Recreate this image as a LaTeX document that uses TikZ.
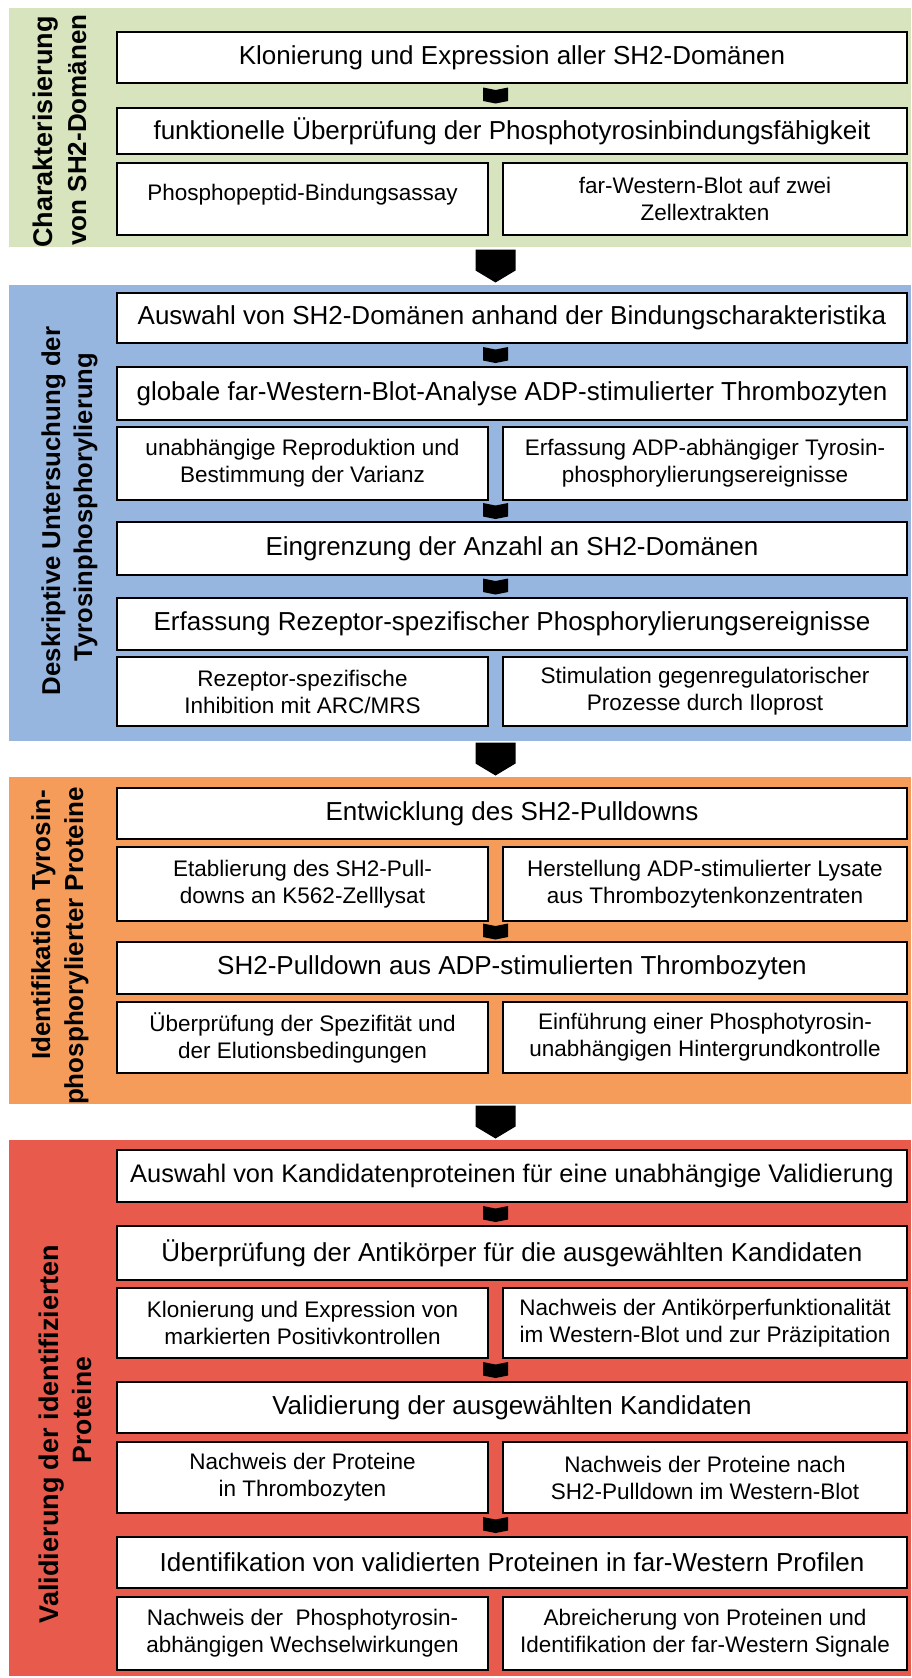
\documentclass[tikz,border=0pt]{standalone}
\usepackage{fontspec}
\setmainfont{Liberation Sans}
\usetikzlibrary{calc}
\definecolor{pgreen}{HTML}{D7E4BD}
\definecolor{pblue}{HTML}{96B5DF}
\definecolor{porange}{HTML}{F59C5A}
\definecolor{pred}{HTML}{E85A4C}
\tikzset{
  panel/.style={anchor=north west, inner sep=0pt, outer sep=0pt, minimum width=902pt},
  box/.style={draw=black, line width=1.5pt, fill=white, anchor=north west, inner sep=0pt, outer sep=0pt, align=center, font=\fontsize{26}{31}\selectfont},
  wide/.style={box, minimum width=790pt},
  pl/.style={box, minimum width=371pt, font=\fontsize{22.5}{27}\selectfont},
  pr/.style={box, minimum width=404pt, font=\fontsize{22.5}{27}\selectfont},
  lab/.style={rotate=90, anchor=base, inner sep=0pt},
  labf/.style={font=\fontsize{#1}{32}\selectfont\bfseries},
  smallarr/.pic={\fill[black] (-12.5,-8) -- (0,-5.5) -- (12.5,-8) -- (12.5,5.5) -- (0,8) -- (-12.5,5.5) -- cycle;},
  bigarr/.pic={\fill[black] (-20,-16.5) -- (20,-16.5) -- (20,4.5) -- (0,16.5) -- (-20,4.5) -- cycle;}
}
\newcommand{\sarr}[2]{\coordinate (tmp) at ($(#1.south)!0.5!(#2.north)$); \pic at (axis |- tmp) {smallarr};}
\newcommand{\barr}[2]{\coordinate (tmp) at ($(#1.south)!0.5!(#2.north)$); \pic at (axis |- tmp) {bigarr};}
\begin{document}
\begin{tikzpicture}[x=1pt,y=-1pt]
\useasboundingbox (0,0) rectangle (912,1678);
\coordinate (axis) at (495.5,0);
% panels
\node[panel, fill=pgreen, minimum height=239pt] (pg) at (9,8) {};
\node[panel, fill=pblue, minimum height=456pt] (pb) at (9,285) {};
\node[panel, fill=porange, minimum height=327pt] (po) at (9,777) {};
\node[panel, fill=pred, minimum height=536pt] (pr) at (9,1140) {};
% labels
\node[lab, labf=27] (lg1) at (52,132) {Charakterisierung};
\node[lab, labf=26] (lg2) at (86,130) {von SH2-Domänen};
\node[lab, labf=25.8] (lb1) at (60,511) {Deskriptive Untersuchung der};
\node[lab, labf=25.6] (lb2) at (92,507) {Tyrosinphosphorylierung};
\node[lab, labf=26] (lo1) at (50,925) {Identifikation Tyrosin-};
\node[lab, labf=26] (lo2) at (83,946) {phosphorylierter Proteine};
\node[lab, labf=27] (lr1) at (58,1434) {Validierung der identifizierten};
\node[lab, labf=26.5] (lr2) at (91,1410) {Proteine};
% green
\node[wide, minimum height=51pt] (g1) at (117,32) {Klonierung und Expression aller SH2-Domänen};
\node[wide, minimum height=46pt] (g2) at (117,108) {funktionelle Überprüfung der Phosphotyrosinbindungsfähigkeit};
\node[pl, minimum height=72pt, text depth=14pt] (g3a) at (117,163) {Phosphopeptid-Bindungsassay};
\node[pr, minimum height=72pt] (g3b) at (503,163) {far-Western-Blot auf zwei\\Zellextrakten};
% blue
\node[wide, minimum height=50pt] (b1) at (117,293) {Auswahl von SH2-Domänen anhand der Bindungscharakteristika};
\node[wide, minimum height=53pt] (b2) at (117,367) {globale far-Western-Blot-Analyse ADP-stimulierter Thrombozyten};
\node[pl, minimum height=73pt] (b3a) at (117,427) {unabhängige Reproduktion und\\Bestimmung der Varianz};
\node[pr, minimum height=73pt] (b3b) at (503,427) {Erfassung ADP-abhängiger Tyrosin-\\phosphorylierungsereignisse};
\node[wide, minimum height=53pt] (b4) at (117,522) {Eingrenzung der Anzahl an SH2-Domänen};
\node[wide, minimum height=52pt] (b5) at (117,598) {Erfassung Rezeptor-spezifischer Phosphorylierungsereignisse};
\node[pl, minimum height=69pt] (b6a) at (117,657) {Rezeptor-spezifische\\Inhibition mit ARC/MRS};
\node[pr, minimum height=69pt] (b6b) at (503,657) {Stimulation gegenregulatorischer\\Prozesse durch Iloprost};
% orange
\node[wide, minimum height=51pt] (o1) at (117,788) {Entwicklung des SH2-Pulldowns};
\node[pl, minimum height=74pt] (o2a) at (117,847) {Etablierung des SH2-Pull-\\downs an K562-Zelllysat};
\node[pr, minimum height=74pt] (o2b) at (503,847) {Herstellung ADP-stimulierter Lysate\\aus Thrombozytenkonzentraten};
\node[wide, minimum height=52pt] (o3) at (117,942) {SH2-Pulldown aus ADP-stimulierten Thrombozyten};
\node[pl, minimum height=71pt] (o4a) at (117,1002) {Überprüfung der Spezifität und\\der Elutionsbedingungen};
\node[pr, minimum height=71pt] (o4b) at (503,1002) {Einführung einer Phosphotyrosin-\\unabhängigen Hintergrundkontrolle};
% red
\node[wide, minimum height=52pt, font=\fontsize{25.4}{30}\selectfont] (r1) at (117,1150) {Auswahl von Kandidatenproteinen für eine unabhängige Validierung};
\node[wide, minimum height=54pt] (r2) at (117,1226) {Überprüfung der Antikörper für die ausgewählten Kandidaten};
\node[pl, minimum height=70pt] (r3a) at (117,1288) {Klonierung und Expression von\\markierten Positivkontrollen};
\node[pr, minimum height=70pt] (r3b) at (503,1288) {Nachweis der Antikörperfunktionalität\\im Western-Blot und zur Präzipitation};
\node[wide, minimum height=51pt] (r4) at (117,1382) {Validierung der ausgewählten Kandidaten};
\node[pl, minimum height=71pt] (r5a) at (117,1442) {Nachweis der Proteine\\in Thrombozyten};
\node[pr, minimum height=71pt] (r5b) at (503,1442) {Nachweis der Proteine nach\\SH2-Pulldown im Western-Blot};
\node[wide, minimum height=51pt] (r6) at (117,1537) {Identifikation von validierten Proteinen in far-Western Profilen};
\node[pl, minimum height=73pt] (r7a) at (117,1597) {Nachweis der~ Phosphotyrosin-\\abhängigen Wechselwirkungen};
\node[pr, minimum height=73pt] (r7b) at (503,1597) {Abreicherung von Proteinen und\\Identifikation der far-Western Signale};
% small arrows
\sarr{g1}{g2}
\sarr{b1}{b2}
\sarr{b3a}{b4}
\sarr{b4}{b5}
\sarr{o2a}{o3}
\sarr{r1}{r2}
\sarr{r3a}{r4}
\sarr{r5a}{r6}
% big arrows
\barr{pg}{pb}
\barr{pb}{po}
\barr{po}{pr}
\end{tikzpicture}
\end{document}
